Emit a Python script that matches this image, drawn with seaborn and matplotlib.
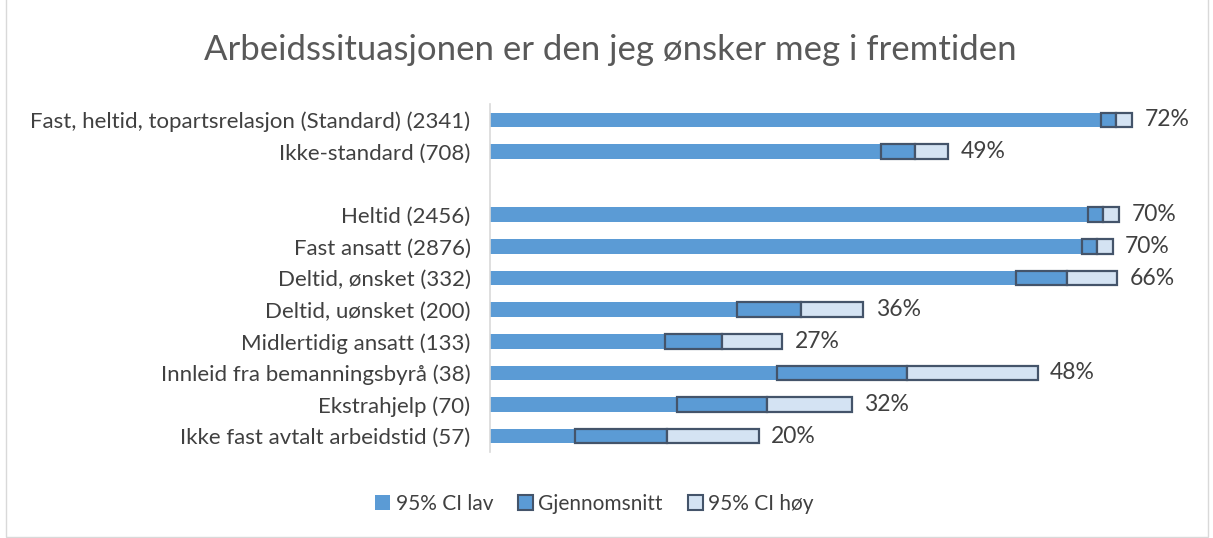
import numpy as np
import pandas as pd
import matplotlib
matplotlib.use("Agg")
import matplotlib.pyplot as plt
from matplotlib.patches import Patch, Rectangle
import seaborn as sns

# ---- data ----
categories = [
    "Fast, heltid, topartsrelasjon (Standard) (2341)",
    "Ikke-standard (708)",
    " ",
    "Heltid (2456)",
    "Fast ansatt (2876)",
    "Deltid, ønsket (332)",
    "Deltid, uønsket (200)",
    "Midlertidig ansatt (133)",
    "Innleid fra bemanningsbyrå (38)",
    "Ekstrahjelp (70)",
    "Ikke fast avtalt arbeidstid (57)",
]
ci_low = [70.0, 44.8, np.nan, 68.5, 67.8, 60.3, 28.3, 20.0, 32.9, 21.4, 9.7]
mean = [71.8, 48.7, np.nan, 70.3, 69.6, 66.1, 35.7, 26.6, 47.8, 31.7, 20.3]
ci_high = [73.6, 52.5, np.nan, 72.1, 71.4, 71.9, 42.8, 33.5, 62.8, 41.5, 30.8]
value_labels = ["72%", "49%", "", "70%", "70%", "66%", "36%", "27%", "48%", "32%", "20%"]
legend_labels = ["95% CI lav", "Gjennomsnitt", "95% CI høy"]

df = pd.DataFrame({"cat": categories, "low": ci_low, "mean": mean, "high": ci_high})

sns.set_theme(style="white")
plt.rcParams["font.family"] = ["Lato", "DejaVu Sans"]

C_LOW = "#5B9BD5"
C_EDGE = "#44546A"
C_HIGH = "#D4E3F3"
TXT = "#404040"

fig = plt.figure(figsize=(12.13, 5.38), dpi=100)
ax = fig.add_axes([490 / 1213, 1 - 452 / 538, 698 / 1213, 348 / 538])

sns.barplot(data=df, x="low", y="cat", order=categories, color=C_LOW,
            orient="h", width=0.46, saturation=1, ax=ax, linewidth=0)

ypos = np.arange(len(categories))
valid = df["mean"].notna().values
ax.barh(ypos[valid], (df["mean"] - df["low"])[valid], left=df["low"][valid],
        height=0.46, color=C_LOW, edgecolor=C_EDGE, linewidth=1.6)
ax.barh(ypos[valid], (df["high"] - df["mean"])[valid], left=df["mean"][valid],
        height=0.46, color=C_HIGH, edgecolor=C_EDGE, linewidth=1.6)

for y, h, lab in zip(ypos, df["high"], value_labels):
    if lab:
        ax.text(h + 1.4, y, lab, va="center", ha="left", fontsize=16.5, color=TXT)

ax.set_xlim(0, 80)
ax.set_ylim(len(categories) - 0.5, -0.5)
ax.set_xlabel("")
ax.set_ylabel("")
ax.set_xticks([])
ax.tick_params(axis="y", length=0, pad=14, labelsize=16, labelcolor=TXT)
for s in ["top", "right", "bottom"]:
    ax.spines[s].set_visible(False)
ax.spines["left"].set_color("#D9D9D9")
ax.spines["left"].set_linewidth(1.2)

fig.text(0.503, 1 - 50 / 538, "Arbeidssituasjonen er den jeg ønsker meg i fremtiden",
         ha="center", va="center", fontsize=25, color="#595959")

handles = [
    Patch(facecolor=C_LOW, edgecolor=C_LOW, linewidth=0),
    Patch(facecolor=C_LOW, edgecolor=C_EDGE, linewidth=1.5),
    Patch(facecolor=C_HIGH, edgecolor=C_EDGE, linewidth=1.5),
]
fig.legend(handles, legend_labels, loc="center", bbox_to_anchor=(0.49, 1 - 504 / 538),
           ncol=3, frameon=False, fontsize=15, handlelength=0.72, handleheight=0.72,
           handletextpad=0.25, columnspacing=1.2, labelcolor=TXT)

fig.patches.append(Rectangle((0.005, 0.002), 0.991, 1.2, transform=fig.transFigure,
                             fill=False, edgecolor="#D9D9D9", linewidth=1))

fig.savefig("out.png", dpi=100)
